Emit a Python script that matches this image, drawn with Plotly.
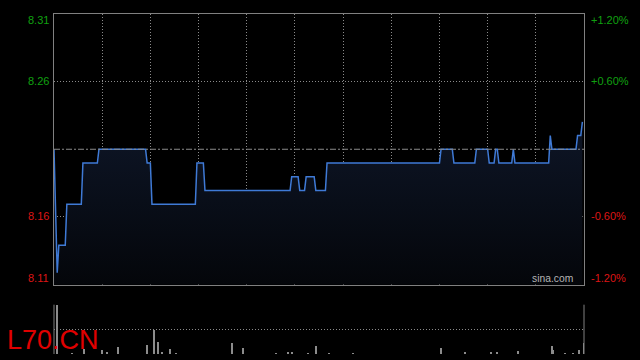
import plotly.graph_objects as go

# ---- data ----
pre_close = 8.21
price_times = [0, 2, 3, 7, 8, 17, 18, 27, 28, 57, 58, 60, 61, 88, 89, 93, 94, 147, 148, 152,
               153, 156, 157, 162, 163, 169, 170, 240, 241, 248, 249, 262, 263, 270, 271, 274,
               275, 276, 277, 285, 286, 287, 308, 309, 310, 325, 326, 328, 329]
prices = [8.21, 8.12, 8.14, 8.14, 8.17, 8.17, 8.20, 8.20, 8.21, 8.21, 8.20, 8.20, 8.17, 8.17,
          8.20, 8.20, 8.18, 8.18, 8.19, 8.19, 8.18, 8.18, 8.19, 8.19, 8.18, 8.18, 8.20, 8.20,
          8.21, 8.21, 8.20, 8.20, 8.21, 8.21, 8.20, 8.20, 8.21, 8.21, 8.20, 8.20, 8.21, 8.20,
          8.20, 8.22, 8.21, 8.21, 8.22, 8.22, 8.23]
vol_times = [2, 11, 19, 30, 33, 40, 58, 62, 65, 67, 72, 76, 111, 118, 138, 146, 148, 158, 163,
             171, 186, 241, 256, 272, 276, 289, 310, 311, 318, 323, 327, 330]
vol_values = [100, 3, 10, 9, 5, 15, 19, 49, 25, 5, 11, 3, 23, 13, 3, 5, 5, 3, 17,
              3, 3, 13, 5, 5, 5, 7, 17, 9, 3, 3, 9, 22]
left_labels = ["8.31", "8.26", "8.16", "8.11"]
right_labels = ["+1.20%", "+0.60%", "-0.60%", "-1.20%"]
pct_levels = [0.012, 0.006, -0.006, -0.012]
symbol = "L70.CN"

GREEN = "#10a010"
RED = "#dd1515"
GRID = "#8a8a8a"
BORDER = "#808080"
FONT = "Liberation Sans, Arial, sans-serif"

ymin = pre_close * (1 - 0.012)
ymax = pre_close * (1 + 0.012)
levels = [pre_close * (1 + p) for p in pct_levels]

fig = go.Figure()

fig.add_trace(go.Scatter(
    x=price_times, y=prices, mode="lines",
    line=dict(color="#3f7ad6", width=1.5),
    fill="tozeroy",
    fillgradient=dict(type="vertical", start=ymin, stop=pre_close,
                      colorscale=[[0, "rgb(4,6,10)"], [1, "rgb(12,19,34)"]]),
    xaxis="x", yaxis="y", hoverinfo="skip", showlegend=False,
))

fig.add_trace(go.Bar(
    x=vol_times, y=vol_values, width=0.7,
    marker=dict(color="#8c8c8c", line=dict(width=0)),
    xaxis="x2", yaxis="y2", hoverinfo="skip", showlegend=False,
))

fig.update_layout(
    width=640, height=360,
    margin=dict(l=54, r=56, t=14, b=6),
    paper_bgcolor="black", plot_bgcolor="black",
    font=dict(family=FONT, size=11),
    xaxis=dict(domain=[0, 1], range=[0, 330], dtick=30, tick0=0, showticklabels=False,
               showgrid=True, gridcolor=GRID, griddash="1px,2px", gridwidth=1,
               zeroline=False, showline=True, linecolor=BORDER, linewidth=1, mirror=True,
               ticks="", anchor="y"),
    yaxis=dict(domain=[0.2044, 1], range=[ymin, ymax], tickvals=[levels[1], levels[2]],
               showticklabels=False, showgrid=True, gridcolor=GRID, griddash="1px,2px",
               gridwidth=1, zeroline=False, showline=True, linecolor=BORDER, linewidth=1,
               mirror=True, ticks="", anchor="x"),
    xaxis2=dict(domain=[0, 1], range=[0, 330], showticklabels=False, showgrid=False,
                zeroline=False, showline=False, ticks="", anchor="y2"),
    yaxis2=dict(domain=[0, 0.145], range=[0, 100], tickvals=[0, 50, 100],
                showticklabels=False, showgrid=True, gridcolor=GRID, griddash="1px,2px",
                gridwidth=1, zeroline=False, showline=False, ticks="", anchor="x2"),
    bargap=0,
)

# pre-close reference line
fig.add_shape(type="line", xref="x domain", yref="y", x0=0, x1=1, y0=pre_close, y1=pre_close,
              line=dict(color="#8a8a8a", width=1, dash="6px,2px,2px,2px"))
# volume pane side borders
for xv in (0, 1):
    fig.add_shape(type="line", xref="x2 domain", yref="y2 domain", x0=xv, x1=xv, y0=0, y1=1,
                  line=dict(color=BORDER, width=1))

shifts = [-5.5, 0.5, 0.5, 6.5]
for lab, rlab, lv, sh, p in zip(left_labels, right_labels, levels, shifts, pct_levels):
    col = GREEN if p > 0 else RED
    fig.add_annotation(xref="paper", yref="y", x=0, y=lv, xshift=-3, yshift=sh,
                       xanchor="right", yanchor="middle", text=lab, showarrow=False,
                       font=dict(color=col, size=11, family=FONT))
    fig.add_annotation(xref="paper", yref="y", x=1, y=lv, xshift=5, yshift=sh,
                       xanchor="left", yanchor="middle", text=rlab, showarrow=False,
                       font=dict(color=col, size=11, family=FONT))

fig.add_annotation(xref="paper", yref="y", x=1, y=ymin, xshift=-9, yshift=6,
                   xanchor="right", yanchor="middle", text="sina.com", showarrow=False,
                   font=dict(color="#b4b4b4", size=10.3, family=FONT))

fig.add_annotation(xref="paper", yref="paper", x=(5 - 54) / 530, y=(354 - 340) / 340,
                   xanchor="left", yanchor="middle", text=symbol, showarrow=False,
                   font=dict(color="#e00000", size=27, family=FONT))

fig.write_html("out.html")
